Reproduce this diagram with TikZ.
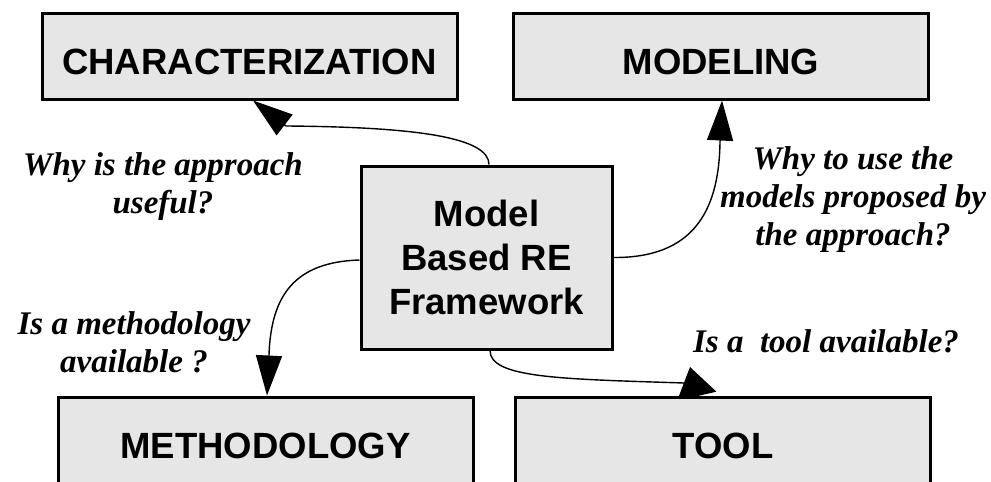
\documentclass[tikz,border=0pt]{standalone}
\usepackage{fontspec}
\setmainfont{Liberation Serif}
\newfontfamily\boxfont{Liberation Sans}
\usetikzlibrary{arrows.meta,backgrounds}
\definecolor{boxgray}{RGB}{230,230,230}
\begin{document}
\begin{tikzpicture}[x=1pt,y=-1pt,
  box/.style={draw=black,line width=3pt,fill=boxgray,inner sep=0pt,
    font={\boxfont\bfseries\fontsize{36.5}{44}\selectfont}},
  capbox/.style={box,minimum width=415pt,minimum height=86pt,text height=36pt,text depth=0pt},
  qlabel/.style={font={\bfseries\itshape\fontsize{33}{38}\selectfont},align=center,inner sep=0pt},
  conn/.style={line width=1.4pt,-{Triangle[length=40pt,width=26pt]}},
  toolconn/.style={line width=1.4pt,-{Triangle[length=30pt,width=40pt]}}]
\useasboundingbox (0,0) rectangle (991,482);
\clip (0,0) rectangle (991,482);
% boxes
\node[capbox] (char) at (249.5,56) {CHARACTERIZATION};
\node[capbox] (model) at (721,56) {MODELING};
\node[capbox] (meth) at (265.5,440) {METHODOLOGY};
\node[capbox] (tool) at (723,440) {TOOL};
\node[box,minimum width=251pt,minimum height=183pt,align=center] (mid) at (486.5,257.5) {Model\\Based RE\\Framework};
% question labels
\node[qlabel] (q1) at (163,187) {Why is the approach\\useful?};
\node[qlabel] (q2) at (853,200) {Why to use the\\models proposed by\\the approach?};
\node[qlabel] (q3) at (134,342) {Is a methodology\\available ?};
\node[qlabel] (q4) at (826,341) {Is a~ tool available?};
\coordinate (tooltip) at (690,367);
% connectors
\begin{scope}[on background layer]
\fill[white] (0,0) rectangle (991,482);
\draw[conn] ([xshift=2.5pt]mid.north) .. controls (489,138) and (420,127) .. (286,126) -- ([xshift=3.5pt]char.south);
\draw[conn] (mid.east) .. controls (690,258) and (719,215) .. (720,142) -- ([xshift=1pt]model.south);
\draw[conn] ([yshift=-2.5pt]mid.west) .. controls (295,262) and (271,295) .. (269,355) -- ([xshift=1.5pt]meth.north);
\draw[toolconn] ([xshift=3.5pt]mid.south) .. controls (490,378) and (560,379) .. (684,383) -- (697.9,401.1) -- (tooltip);
\end{scope}
\end{tikzpicture}
\end{document}
